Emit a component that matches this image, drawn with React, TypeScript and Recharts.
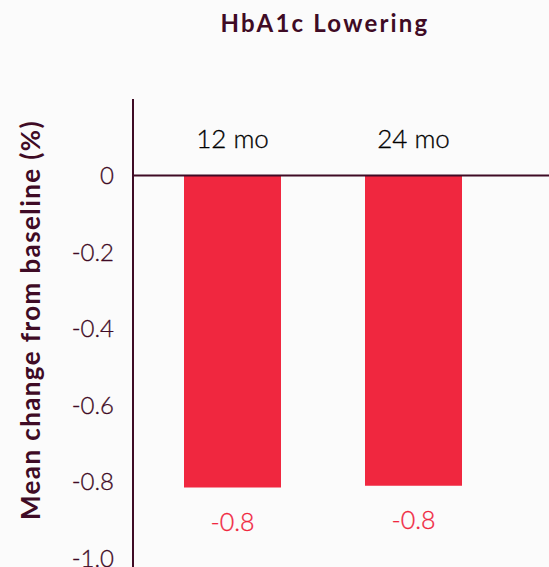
import { BarChart, Bar, XAxis, YAxis, ReferenceLine, LabelList } from 'recharts'

const PERIODS = ['12 mo', '24 mo']
const HBA1C_CHANGE = [-0.815, -0.81]
const Y_TICKS = [0, -0.2, -0.4, -0.6, -0.8, -1.0]

const MAROON = '#3f0b25'
const RED = '#f0273f'
const FONT = 'Lato, "Open Sans", sans-serif'

const data = PERIODS.map((period, i) => ({ period, change: HBA1C_CHANGE[i] }))

// category name sits above the zero line, value sits under the bar end
function PeriodLabel(props: any) {
  const { x, y, width, height, value } = props
  const top = Math.min(y, y + height)
  return (
    <text x={x + width / 2} y={top - 38} textAnchor="middle" dominantBaseline="central"
      fontFamily={FONT} fontSize={26} fontWeight={300} fill="#000" stroke="#000" strokeWidth={0.3}>
      {value}
    </text>
  )
}

function ValueLabel(props: any) {
  const { x, y, width, height, value } = props
  const bottom = Math.max(y, y + height)
  return (
    <text x={x + width / 2} y={bottom + 33} textAnchor="middle" dominantBaseline="central"
      fontFamily={FONT} fontSize={25} fontWeight={300} fill={RED} stroke={RED} strokeWidth={0.3}>
      {Number(value).toFixed(1)}
    </text>
  )
}

function AxisTitle() {
  return (
    <text x={30} y={320} transform="rotate(-90, 30, 320)" textAnchor="middle" dominantBaseline="central"
      fontFamily={FONT} fontSize={26} fontWeight={700} fill={MAROON} letterSpacing={1.4}>
      Mean change from baseline (%)
    </text>
  )
}

export default function App() {
  return (
    <div style={{ position: 'absolute', left: 0, top: 0, width: 549, height: 567, overflow: 'hidden', background: '#fbfbfb' }}>
      <div style={{ position: 'absolute', left: 0, top: 8, width: 650, textAlign: 'center', fontFamily: FONT,
        fontWeight: 700, fontSize: 24, letterSpacing: 2.2, color: MAROON }}>
        HbA1c Lowering
      </div>
      <BarChart width={600} height={645} data={data} margin={{ top: 99, right: 0, bottom: 10, left: 0 }}>
        <XAxis dataKey="period" hide padding={{ left: 9, right: 96 }} />
        <YAxis domain={[-1.2, 0.2]} ticks={Y_TICKS} width={133} interval={0}
          tickFormatter={(v) => (v === 0 ? '0' : Number(v).toFixed(1))}
          tick={{ fontSize: 24, fill: MAROON, fontFamily: FONT, fontWeight: 300, stroke: MAROON, strokeWidth: 0.3 }}
          tickLine={false} tickSize={0} tickMargin={19}
          axisLine={{ stroke: MAROON, strokeWidth: 2 }}
          label={{ content: () => <AxisTitle /> }} />
        <Bar dataKey="change" fill={RED} barSize={97} isAnimationActive={false}>
          <LabelList dataKey="period" content={<PeriodLabel />} />
          <LabelList dataKey="change" content={<ValueLabel />} />
        </Bar>
        <ReferenceLine y={0} stroke={MAROON} strokeWidth={2} />
      </BarChart>
    </div>
  )
}
